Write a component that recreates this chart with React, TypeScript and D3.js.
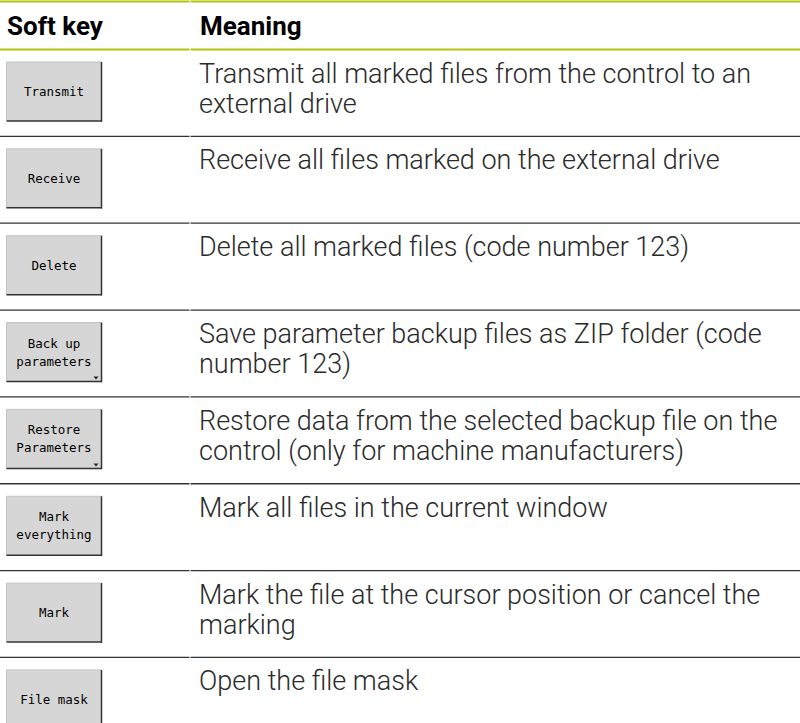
import React from 'react';
import * as d3 from 'd3';

// soft key labels (line breaks as on the buttons)
const softKeys = [
  ['Transmit'],
  ['Receive'],
  ['Delete'],
  ['Back up', 'parameters'],
  ['Restore', 'Parameters'],
  ['Mark', 'everything'],
  ['Mark'],
  ['File mask'],
];

// keys that open a sub menu (small triangle)
const hasMenu = [false, false, false, true, true, false, false, false];

const meanings = [
  ['Transmit all marked files from the control to an', 'external drive'],
  ['Receive all files marked on the external drive'],
  ['Delete all marked files (code number 123)'],
  ['Save parameter backup files as ZIP folder (code', 'number 123)'],
  ['Restore data from the selected backup file on the', 'control (only for machine manufacturers)'],
  ['Mark all files in the current window'],
  ['Mark the file at the cursor position or cancel the', 'marking'],
  ['Open the file mask'],
];

const headers = ['Soft key', 'Meaning'];

const width = 800;
const height = 723;
const headTop = 49.5;
const rowH = 86.85;
const colSplit = 190;
const green = '#b5c20e';

const App = () => {
  const y = d3.scaleLinear().domain([0, softKeys.length]).range([headTop, headTop + rowH * softKeys.length]);
  const x = d3.scaleOrdinal<number, number>().domain([0, 1]).range([6, 199]);

  const btnW = 95;
  const btnH = 59;

  return (
    <svg width={width} height={height} style={{ position: 'absolute', left: 0, top: 0, background: '#fff' }}>
      {/* top rule */}
      <line x1={0} x2={colSplit - 0.5} y1={1.5} y2={1.5} stroke={green} strokeWidth={2} />
      <line x1={colSplit + 0.5} x2={width} y1={1.5} y2={1.5} stroke={green} strokeWidth={2} />

      {headers.map((h, i) => (
        <text key={h} x={x(i) + 1} y={35} fontFamily="Roboto" fontWeight={700} fontSize={26} fill="#000">
          {h}
        </text>
      ))}

      <line x1={0} x2={colSplit - 0.5} y1={headTop} y2={headTop} stroke={green} strokeWidth={2} />
      <line x1={colSplit + 0.5} x2={width} y1={headTop} y2={headTop} stroke={green} strokeWidth={2} />

      {softKeys.map((lbl, i) => {
        const top = y(i);
        const bx = 6.5;
        const by = top + 12.5;
        const cx = bx + btnW / 2;
        const cy = by + btnH / 2;
        return (
          <g key={i}>
            {i > 0 && (
              <>
                <line x1={0} x2={colSplit - 0.5} y1={top} y2={top} stroke="#333" strokeWidth={1.3} />
                <line x1={colSplit + 0.5} x2={width} y1={top} y2={top} stroke="#333" strokeWidth={1.3} />
              </>
            )}
            <rect x={bx} y={by} width={btnW} height={btnH} fill="#d6d6d6" />
            <line x1={bx} x2={bx + btnW} y1={by} y2={by} stroke="#c4c4c4" strokeWidth={1} />
            <line x1={bx} x2={bx} y1={by} y2={by + btnH} stroke="#c4c4c4" strokeWidth={1} />
            <line x1={bx + btnW} x2={bx + btnW} y1={by} y2={by + btnH + 0.8} stroke="#333" strokeWidth={1.5} />
            <line x1={bx} x2={bx + btnW} y1={by + btnH} y2={by + btnH} stroke="#333" strokeWidth={1.5} />
            {hasMenu[i] && (
              <path
                d={`M${bx + btnW - 8},${by + btnH - 5} L${bx + btnW - 3},${by + btnH - 5} L${bx + btnW - 5.5},${by + btnH - 2} Z`}
                fill="#222"
              />
            )}
            {lbl.map((t, j) => (
              <text
                key={j}
                x={cx}
                y={cy + (j - (lbl.length - 1) / 2) * 18}
                textAnchor="middle"
                dominantBaseline="central"
                fontFamily="DejaVu Sans Mono"
                fontSize={12.5}
                fill="#000"
              >
                {t}
              </text>
            ))}
            {meanings[i].map((t, j) => (
              <text
                key={j}
                x={x(1)}
                y={top + 33 + j * 30}
                fontFamily="'Roboto Light', Roboto"
                fontWeight={300}
                fontSize={27}
                fill="#2a2a2a"
              >
                {t}
              </text>
            ))}
          </g>
        );
      })}
    </svg>
  );
};

export default App;
